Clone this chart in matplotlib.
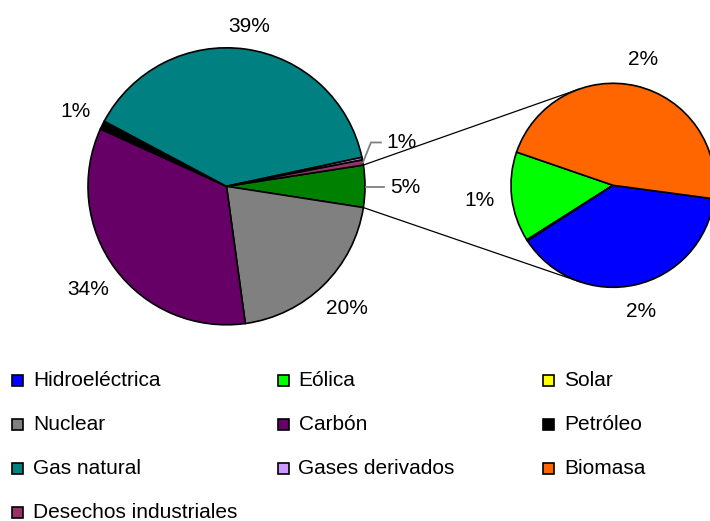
import numpy as np
import matplotlib
matplotlib.use("Agg")
import matplotlib.pyplot as plt
from matplotlib.patches import Rectangle

plt.rcParams['font.family'] = ['Liberation Sans', 'DejaVu Sans']

# ---- data (percent of total generation) ----
main_labels = ["Nuclear", "Carbón", "Petróleo", "Gas natural", "Gases derivados", "Desechos industriales"]
main_values = [20.4, 34.0, 1.0, 38.9, 0.3, 0.6]
main_colors = ["#808080", "#660066", "#000000", "#008080", "#CC99FF", "#993366"]

other_labels = ["Eólica", "Solar", "Hidroeléctrica", "Biomasa"]
other_values = [0.7, 0.01, 1.9, 2.3]
other_colors = ["#00FF00", "#FFFF00", "#0000FF", "#FF6600"]
other_color_main = "#008000"

legend_labels = ["Hidroeléctrica", "Eólica", "Solar",
                 "Nuclear", "Carbón", "Petróleo",
                 "Gas natural", "Gases derivados", "Biomasa",
                 "Desechos industriales"]
legend_colors = ["#0000FF", "#00FF00", "#FFFF00",
                 "#808080", "#660066", "#000000",
                 "#008080", "#CC99FF", "#FF6600",
                 "#993366"]

W, H = 710, 521
fig = plt.figure(figsize=(W / 100, H / 100), dpi=100)
ax = fig.add_axes([0, 0, 1, 1])

FS = 15
def Y(py):
    return H - py

def fix_axes():
    ax.set_xlim(0, W)
    ax.set_ylim(0, H)
    ax.set_aspect('equal')
    ax.axis('off')

renderer = fig.canvas.get_renderer()

def place_label(center, radius, theta_deg, text, gap=13):
    t = ax.text(0, 0, text, ha='center', va='center', fontsize=FS)
    bb = t.get_window_extent(renderer=renderer)
    w, h = bb.width, bb.height * 0.75
    a = np.deg2rad(theta_deg)
    d = radius + gap + abs(w / 2 * np.cos(a)) + abs(h / 2 * np.sin(a))
    t.set_position((center[0] + d * np.cos(a), center[1] + d * np.sin(a)))

# ---- main pie ----
mc = (226.5, Y(186.3))
mr = 138.5
other_total = sum(other_values)
vals = [other_total] + main_values
cols = [other_color_main] + main_colors
total = sum(vals)
start = 360 * other_total / total / 2
wedges, _ = ax.pie(vals, colors=cols, center=mc, radius=mr, startangle=start,
                   counterclock=False, frame=True,
                   wedgeprops=dict(edgecolor='black', linewidth=1.2))
fix_axes()

def pct(v):
    return f"{int(round(v / total * 100 + 1e-9))}%"

for w, v in zip(wedges[1:5], vals[1:5]):
    if round(v / total * 100) < 1:
        continue
    place_label(mc, mr, (w.theta1 + w.theta2) / 2, pct(v))

# "other" slice label with leader
w = wedges[0]
a = np.deg2rad((w.theta1 + w.theta2) / 2)
ex, ey = mc[0] + mr * np.cos(a), mc[1] + mr * np.sin(a)
ax.plot([ex + 1, ex + 19], [ey - 1, ey - 1], color='#808080', lw=1.3)
ax.text(ex + 25, ey - 1, pct(vals[0]), ha='left', va='center', fontsize=FS)

# desechos label with leader
w = wedges[6]
a = np.deg2rad((w.theta1 + w.theta2) / 2)
ex, ey = mc[0] + mr * np.cos(a), mc[1] + mr * np.sin(a)
ax.plot([ex, ex + 8, ex + 18], [ey, ey + 20, ey + 20], color='#808080', lw=1.3)
ax.text(ex + 23, ey + 20, pct(vals[6]), ha='left', va='center', fontsize=FS)

# ---- secondary pie ----
sc = (613, Y(185.3))
sr = 102
wedges2, _ = ax.pie(other_values, colors=other_colors, center=sc, radius=sr,
                    startangle=161, counterclock=True, frame=True,
                    wedgeprops=dict(edgecolor='black', linewidth=1.2))
fix_axes()
for w, v in zip(wedges2, other_values):
    if round(v / total * 100) < 1:
        continue
    place_label(sc, sr, (w.theta1 + w.theta2) / 2, pct(v), gap=17)

# ---- connector lines (tangents to the secondary pie) ----
w = wedges[0]
t_top = np.deg2rad(max(w.theta1, w.theta2))
t_bot = np.deg2rad(min(w.theta1, w.theta2))
for t, sgn in ((t_top, -1), (t_bot, +1)):
    P = np.array([mc[0] + mr * np.cos(t), mc[1] + mr * np.sin(t)])
    C = np.array(sc)
    dvec = P - C
    dist = np.hypot(*dvec)
    phi = np.arctan2(dvec[1], dvec[0])
    alpha = np.arccos(sr / dist)
    T = C + sr * np.array([np.cos(phi + sgn * alpha), np.sin(phi + sgn * alpha)])
    ax.plot([P[0], T[0]], [P[1], T[1]], color='black', lw=0.9)

# ---- legend ----
col_x = [12, 277.5, 543]
row_y = [380, 424, 468, 512.5]
for i, (lab, c) in enumerate(zip(legend_labels, legend_colors)):
    r, k = divmod(i, 3)
    x0 = col_x[k]
    yc = Y(row_y[r])
    ax.add_patch(Rectangle((x0, yc - 5.5), 11, 11, facecolor=c, edgecolor='black', lw=1.2))
    ax.text(x0 + 21, yc, lab, ha='left', va='center', fontsize=FS)

fix_axes()
fig.savefig("out.png", dpi=100)
